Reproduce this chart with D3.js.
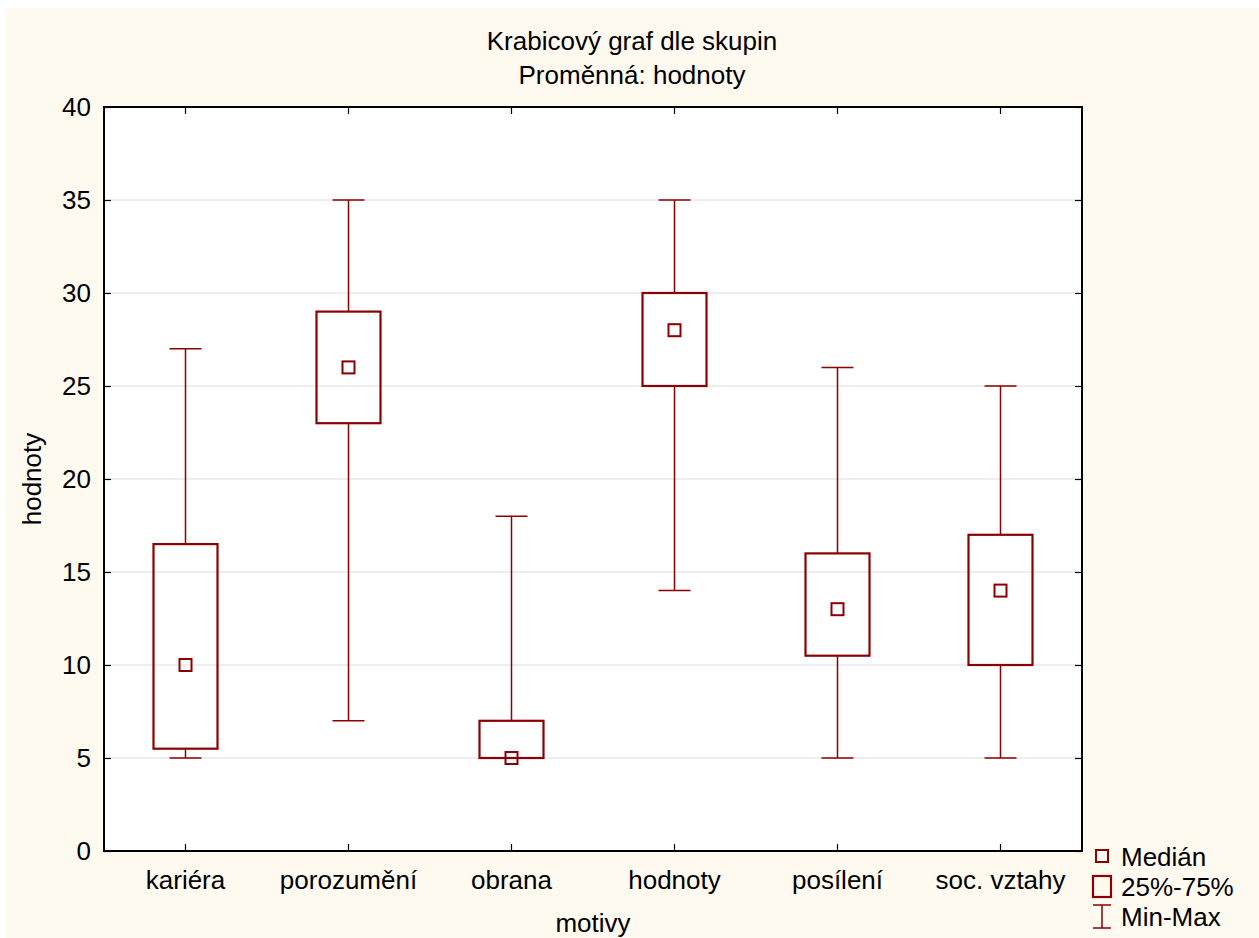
<!DOCTYPE html>
<html><head><meta charset="utf-8">
<script src="https://cdn.jsdelivr.net/npm/d3@7"></script>
<style>
html,body{margin:0;padding:0;background:#fff;}
svg{display:block;}
text{font-family:"Liberation Sans",Arial,sans-serif;fill:#000;}
</style></head>
<body>
<script>
const categories = ["kariéra","porozumění","obrana","hodnoty","posílení","soc. vztahy"];
const minVals    = [5, 7, 5, 14, 5, 5];
const q1Vals     = [5.5, 23, 5, 25, 10.5, 10];
const medianVals = [10, 26, 5, 28, 13, 14];
const q3Vals     = [16.5, 29, 7, 30, 16, 17];
const maxVals    = [27, 35, 18, 35, 26, 25];
const yTicks     = [0,5,10,15,20,25,30,35,40];
const titleLines = ["Krabicový graf dle skupin","Proměnná: hodnoty"];
const legendLabels = ["Medián","25%-75%","Min-Max"];

const W=1259,H=938, col="#8B0000", fs=26;
const L=104,R=1082,T=107,B=851;
const svg=d3.select("body").append("svg").attr("width",W).attr("height",H);
svg.append("rect").attr("x",6).attr("y",8).attr("width",W-6).attr("height",H-8).attr("fill","#FFFAF0");
svg.append("rect").attr("x",L).attr("y",T).attr("width",R-L).attr("height",B-T).attr("fill","#fff");

const x=d3.scaleBand().domain(categories).range([L,R]);
const y=d3.scaleLinear().domain([0,40]).range([B,T]);

// grid
svg.append("g").selectAll("line").data(yTicks.filter(d=>d>0&&d<40)).join("line")
  .attr("x1",L).attr("x2",R).attr("y1",d=>y(d)).attr("y2",d=>y(d))
  .attr("stroke","#dcdcdc").attr("stroke-width",1);

// axes (ticks inward)
const axL=svg.append("g").attr("transform",`translate(${L},0)`).call(d3.axisLeft(y).tickValues(yTicks).tickSizeInner(-7).tickSizeOuter(0).tickPadding(13));
const axR=svg.append("g").attr("transform",`translate(${R},0)`).call(d3.axisRight(y).tickValues(yTicks).tickSizeInner(-7).tickSizeOuter(0).tickFormat(""));
const axB=svg.append("g").attr("transform",`translate(0,${B})`).call(d3.axisBottom(x).tickSizeInner(-7).tickSizeOuter(0).tickPadding(20));
const axT=svg.append("g").attr("transform",`translate(0,${T})`).call(d3.axisTop(x).tickSizeInner(-7).tickSizeOuter(0).tickFormat(""));
[axL,axR,axB,axT].forEach(a=>{a.select(".domain").remove();a.selectAll("line").attr("stroke","#000").attr("stroke-width",1.2);a.selectAll("text").attr("font-size",fs).attr("fill","#000").attr("font-family",'"Liberation Sans",Arial,sans-serif');});
svg.append("rect").attr("x",L).attr("y",T).attr("width",R-L).attr("height",B-T).attr("fill","none").attr("stroke","#000").attr("stroke-width",2);

// boxes
const data=categories.map((c,i)=>({c,min:minVals[i],q1:q1Vals[i],med:medianVals[i],q3:q3Vals[i],max:maxVals[i]}));
const bw=64,cw=32,ms=12;
const g=svg.append("g");
data.forEach(d=>{
  const cx=x(d.c)+x.bandwidth()/2;
  g.append("line").attr("x1",cx).attr("x2",cx).attr("y1",y(d.max)).attr("y2",y(d.q3)).attr("stroke",col).attr("stroke-width",1.5);
  g.append("line").attr("x1",cx).attr("x2",cx).attr("y1",y(d.q1)).attr("y2",y(d.min)).attr("stroke",col).attr("stroke-width",1.5);
  g.append("line").attr("x1",cx-cw/2).attr("x2",cx+cw/2).attr("y1",y(d.max)).attr("y2",y(d.max)).attr("stroke",col).attr("stroke-width",1.5);
  g.append("line").attr("x1",cx-cw/2).attr("x2",cx+cw/2).attr("y1",y(d.min)).attr("y2",y(d.min)).attr("stroke",col).attr("stroke-width",1.5);
  g.append("rect").attr("x",cx-bw/2).attr("y",y(d.q3)).attr("width",bw).attr("height",y(d.q1)-y(d.q3)).attr("fill","none").attr("stroke",col).attr("stroke-width",2.2);
  g.append("rect").attr("x",cx-ms/2).attr("y",y(d.med)-ms/2).attr("width",ms).attr("height",ms).attr("fill","none").attr("stroke",col).attr("stroke-width",2);
});

// titles
svg.selectAll(".title").data(titleLines).join("text").attr("class","title")
  .attr("x",632).attr("y",(d,i)=>50+i*34).attr("text-anchor","middle").attr("font-size",fs).text(d=>d);
svg.append("text").attr("x",(L+R)/2).attr("y",932).attr("text-anchor","middle").attr("font-size",fs).text("motivy");
svg.append("text").attr("transform",`translate(41,${(T+B)/2}) rotate(-90)`).attr("text-anchor","middle").attr("font-size",fs).text("hodnoty");

// legend
const lg=svg.append("g");
lg.append("rect").attr("x",1096).attr("y",850).attr("width",12).attr("height",12).attr("fill","none").attr("stroke",col).attr("stroke-width",2);
lg.append("rect").attr("x",1093).attr("y",876).attr("width",18).attr("height",21).attr("fill","none").attr("stroke",col).attr("stroke-width",2.2);
lg.append("line").attr("x1",1093).attr("x2",1111).attr("y1",905).attr("y2",905).attr("stroke",col).attr("stroke-width",1.5);
lg.append("line").attr("x1",1093).attr("x2",1111).attr("y1",928).attr("y2",928).attr("stroke",col).attr("stroke-width",1.5);
lg.append("line").attr("x1",1102).attr("x2",1102).attr("y1",905).attr("y2",928).attr("stroke",col).attr("stroke-width",1.5);
lg.selectAll("text").data(legendLabels).join("text").attr("x",1121).attr("y",(d,i)=>866+i*30).attr("font-size",fs).text(d=>d);
</script>
</body></html>
